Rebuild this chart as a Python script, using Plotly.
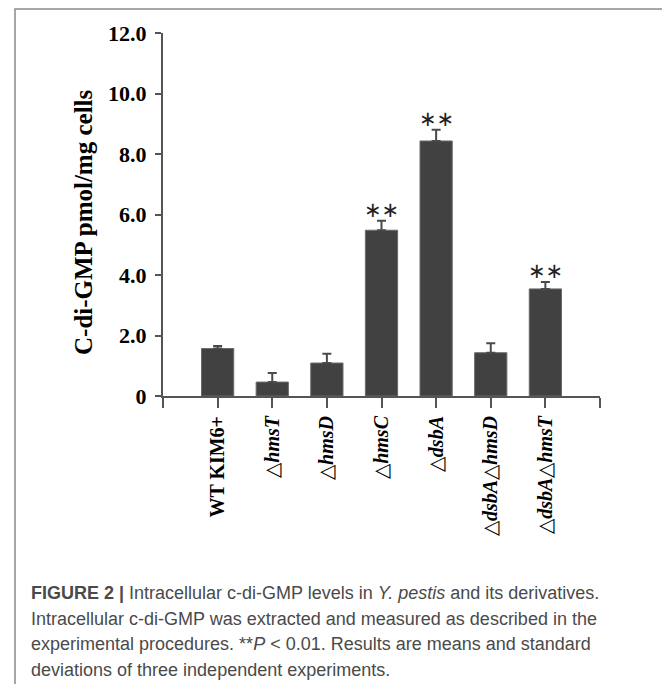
import plotly.graph_objects as go

categories = ["WT KIM6+", "hmsT", "hmsD", "hmsC", "dsbA", "dsbA|hmsD", "dsbA|hmsT"]
means = [1.57, 0.46, 1.09, 5.48, 8.43, 1.43, 3.54]
errors = [0.08, 0.30, 0.31, 0.31, 0.37, 0.31, 0.23]
significance = ["", "", "", "**", "**", "", "**"]
y_ticks = [0, 2, 4, 6, 8, 10, 12]
y_tick_labels = ["0", "2.0", "4.0", "6.0", "8.0", "10.0", "12.0"]

caption_lines = [
    "<b>FIGURE 2 |</b> Intracellular c-di-GMP levels in <i>Y. pestis</i> and its derivatives.",
    "Intracellular c-di-GMP was extracted and measured as described in the",
    "experimental procedures. **<i>P</i> &lt; 0.01. Results are means and standard",
    "deviations of three independent experiments.",
]


def fmt(name):
    if name.startswith("WT"):
        return "<b>" + name + "</b>"
    parts = name.split("|")
    return "".join("△<b><i>" + p + "</i></b>" for p in parts)


xpos = list(range(1, len(categories) + 1))

# page body has an 8px margin: figure coords = page coords - 8
OFF = 8
W, H = 670 - OFF, 684 - OFF
PL, PT, PR, PB = 163, 33, 600, 396  # plot area in page pixels
L, T = PL - OFF, PT - OFF
pw, ph = PR - PL, PB - PT
R = W - L - pw
B = H - T - ph


def px(x):
    return (x - PL) / pw


def py(y):
    return (PB - y) / ph


fig = go.Figure()
fig.add_trace(go.Bar(
    x=xpos, y=means, width=0.59,
    marker=dict(color="#414141", line=dict(color="#6a6a6a", width=1)),
    error_y=dict(type="data", symmetric=False, array=errors,
                 arrayminus=[0] * len(errors),
                 color="#4a4a4a", thickness=2, width=4.5),
    showlegend=False,
))

for xi, m, e, s in zip(xpos, means, errors, significance):
    if s:
        fig.add_annotation(x=xi, y=m + e, text="∗∗", showarrow=False,
                           yanchor="bottom", yshift=-3,
                           font=dict(family="DejaVu Sans", size=21, color="#222"))

fig.add_annotation(xref="paper", yref="paper", x=px(83), y=py(222),
                   text="<b>C-di-GMP pmol/mg cells</b>", textangle=-90,
                   showarrow=False, xanchor="center", yanchor="middle",
                   font=dict(family="Liberation Serif", size=25, color="black"))

for i, line in enumerate(caption_lines):
    fig.add_annotation(xref="paper", yref="paper", x=px(29), y=py(593 + 25.5 * i),
                       text=line, showarrow=False, xanchor="left", yanchor="middle",
                       font=dict(family="Liberation Sans", size=18, color="#4a4a4a"))

fig.add_shape(type="rect", xref="paper", yref="paper",
              x0=px(15), x1=px(667), y0=py(720), y1=py(9),
              line=dict(color="#8a8a8a", width=1.5), fillcolor="rgba(0,0,0,0)")

fig.update_layout(
    width=W, height=H,
    margin=dict(l=L, r=R, t=T, b=B, pad=0),
    plot_bgcolor="white", paper_bgcolor="white",
    xaxis=dict(range=[0, 8], tickvals=list(range(0, 9)),
               ticktext=[""] + [fmt(c) for c in categories] + [""],
               tickangle=-90, ticks="outside", ticklen=10, tickwidth=2,
               tickcolor="#555", showline=True, linecolor="#555", linewidth=2,
               showgrid=False, zeroline=False,
               tickfont=dict(family="Liberation Serif", size=20, color="black")),
    yaxis=dict(range=[0, 12], tickvals=y_ticks,
               ticktext=["<b>" + t + "</b>" for t in y_tick_labels],
               ticks="outside", ticklen=6, tickwidth=2, tickcolor="#555",
               showline=True, linecolor="#555", linewidth=2,
               showgrid=False, zeroline=False, ticklabelstandoff=4,
               tickfont=dict(family="Liberation Serif", size=22, color="black")),
)

fig.write_html("out.html")
